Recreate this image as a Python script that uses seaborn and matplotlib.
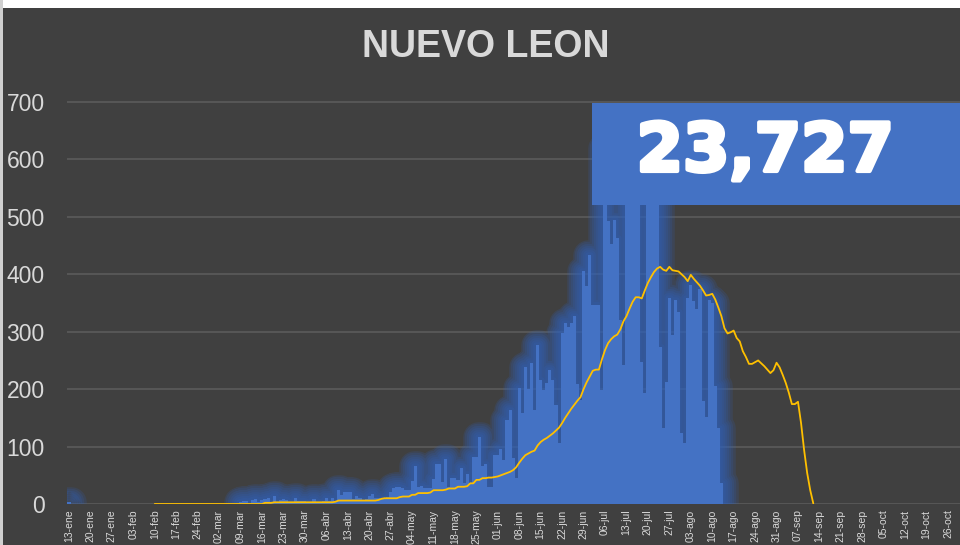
import numpy as np
import pandas as pd
import matplotlib
matplotlib.use("Agg")
import matplotlib.pyplot as plt
import seaborn as sns
from matplotlib import patheffects as pe
from matplotlib.path import Path
from matplotlib.patches import PathPatch, Rectangle

# Datos: casos diarios (barras) y promedio (linea), Nuevo Leon 2020
dia_cero = pd.Timestamp("2020-01-13")

fecha_caso_aislado = "2020-01-13"
caso_aislado = 4

inicio_casos = "2020-03-09"
casos = [
    3, 5, 5, 2, 7, 8, 3, 7, 8, 11, 4, 14, 3, 7, 8, 7, 3, 4, 11, 5,
    5, 5, 2, 3, 8, 4, 3, 5, 11, 6, 11, 5, 24, 15, 21, 21, 21, 8, 14, 10,
    6, 9, 14, 17, 10, 10, 9, 8, 12, 21, 27, 30, 30, 27, 24, 24, 40, 66, 30, 31,
    27, 27, 27, 43, 70, 70, 39, 79, 30, 46, 46, 42, 62, 36, 52, 36, 81, 81, 117, 66,
    70, 30, 30, 85, 85, 95, 77, 146, 164, 80, 45, 202, 158, 238, 200, 245, 164, 277, 216, 199,
    210, 233, 216, 173, 106, 298, 315, 308, 315, 327, 209, 181, 405, 379, 434, 347, 347, 347, 199, 620,
    492, 452, 495, 463, 321, 242, 560, 630, 600, 580, 530, 248, 193, 600, 640, 560, 620, 274, 132, 213,
    359, 295, 355, 335, 124, 106, 359, 382, 353, 340, 374, 180, 151, 356, 350, 206, 132, 37,
]

inicio_promedio = "2020-02-10"
promedio = [
    0, 0, 0, 0, 0, 0, 0, 0, 0, 0, 0, 0, 0, 0, 0, 0, 0, 0,
    0, 0, 0, 0, 0, 0, 0, 0, 0, 0, 0, 0, 0, 0, 0, 0, 0, 0,
    2, 2, 2, 3, 3, 3, 3, 3, 3, 3, 3, 3, 3, 3, 3, 3, 3, 3, 3, 3, 3, 3, 3, 4,
    6, 6, 6, 6, 6, 6, 6, 6, 6, 6, 6, 6, 6, 7,
    9, 10, 10, 10, 10, 10, 12, 13, 13, 13, 16, 16, 19, 19, 19, 19, 20,
    24, 24, 24, 24, 25, 27, 27, 27, 30, 30, 30, 31, 36, 36, 42, 42, 45, 45, 46, 46, 47,
    48, 50, 52, 54, 56, 59, 64, 72, 79, 85, 88, 91, 93, 102, 108, 112, 115, 119, 123, 128,
    133, 141, 150, 158, 166, 173, 180, 186, 200, 212, 222, 232, 234, 234, 252, 268, 280, 287, 292, 295,
    304, 318, 327, 340, 352, 360, 360, 358, 372, 385, 395, 404, 410, 413, 408, 406, 413, 407, 406, 405,
    400, 395, 388, 399, 392, 386, 380, 372, 363, 364, 366, 356, 342, 327, 306, 297, 299, 302, 289, 283,
    266, 256, 244, 244, 247, 250, 245, 240, 234, 228, 233, 246, 238, 225, 211, 194, 174, 174, 178, 141,
    94, 54, 24, 1,
]

etiquetas = [
    "13-ene", "20-ene", "27-ene", "03-feb", "10-feb", "17-feb", "24-feb",
    "02-mar", "09-mar", "16-mar", "23-mar", "30-mar", "06-abr", "13-abr",
    "20-abr", "27-abr", "04-may", "11-may", "18-may", "25-may", "01-jun",
    "08-jun", "15-jun", "22-jun", "29-jun", "06-jul", "13-jul", "20-jul",
    "27-jul", "03-ago", "10-ago", "17-ago", "24-ago", "31-ago", "07-sep",
    "14-sep", "21-sep", "28-sep", "05-oct", "12-oct", "19-oct", "26-oct",
]
total = "23,727"

# posiciones en dias desde el 13-ene
fechas_casos = pd.DatetimeIndex([fecha_caso_aislado]).append(
    pd.date_range(inicio_casos, periods=len(casos)))
dias_casos = (fechas_casos - dia_cero).days.to_numpy()
valores_casos = np.array([caso_aislado] + casos)
dias_prom = (pd.date_range(inicio_promedio, periods=len(promedio)) - dia_cero).days.to_numpy()
dias_ticks = np.arange(len(etiquetas)) * 7

azul = "#4472C4"
azul_glow = "#3162bd"
fondo = "#404040"
gris_txt = "#d9d9d9"

sns.set_theme(style="dark")
plt.rcParams["font.family"] = ["Liberation Sans", "DejaVu Sans"]

fig = plt.figure(figsize=(9.6, 5.45), dpi=100, facecolor=fondo)
ax = fig.add_axes([67 / 960, 41 / 545, 1 - 67 / 960, 402 * 705 / 700 / 545])
ax.set_facecolor(fondo)

sns.barplot(x=dias_casos, y=valores_casos, native_scale=True, orient="x",
            color=azul, saturation=1, width=1, linewidth=0, errorbar=None,
            ax=ax, zorder=3)

# resplandor suave alrededor de las barras (un solo trazo para toda la serie)
barras = list(ax.patches)
contorno = Path.make_compound_path(
    *[b.get_path().transformed(b.get_patch_transform()) for b in barras])
glow = PathPatch(contorno, facecolor=azul, edgecolor="none", zorder=2,
                 transform=ax.transData)
glow.set_path_effects(
    [pe.Stroke(linewidth=w, foreground=azul_glow, alpha=0.17, joinstyle="round")
     for w in (22, 19, 16, 13, 10, 7, 4)] + [pe.Normal()])
ax.add_patch(glow)

sns.lineplot(x=dias_prom, y=promedio, color="#FFC000", linewidth=1.3, ax=ax, zorder=4)

ax.set_xlim(-0.65, -0.65 + 893 / 3.063)
ax.set_ylim(0, 705)
ax.set_xticks(dias_ticks)
ax.set_xticklabels(etiquetas, rotation=90, fontsize=7.5, color=gris_txt)
ax.set_yticks(range(0, 701, 100))
ax.tick_params(axis="x", length=0, pad=4)
ax.tick_params(axis="y", length=0, pad=16, labelsize=16.5, labelcolor=gris_txt)
ax.grid(axis="y", color="#595959", linewidth=1.3)
ax.grid(axis="x", visible=False)
ax.set_axisbelow(True)
for s in ax.spines.values():
    s.set_visible(False)
ax.set_xlabel("")
ax.set_ylabel("")

fig.text(0.506, 0.914, "NUEVO LEON", ha="center", va="center", fontsize=27,
         fontweight="bold", color=gris_txt)

# recuadro con el total
fig.add_artist(Rectangle((592 / 960, 340 / 545), 1 - 592 / 960, 102 / 545,
                         transform=fig.transFigure, facecolor=azul,
                         edgecolor="none", zorder=5))
fig.text(765 / 960, 393 / 545, total, ha="center", va="center", fontsize=48,
         family="DejaVu Sans", fontweight="bold", color="white", zorder=6,
         path_effects=[pe.withStroke(linewidth=3, foreground="white")])

# borde claro arriba y a la izquierda
fig.add_artist(Rectangle((0, 1 - 8 / 545), 1, 8 / 545, transform=fig.transFigure,
                         facecolor="white", edgecolor="none", zorder=7))
fig.add_artist(Rectangle((0, 0), 3 / 960, 1, transform=fig.transFigure,
                         facecolor="#d0d0d0", edgecolor="none", zorder=7))

fig.savefig("out.png", dpi=100, facecolor=fig.get_facecolor())
